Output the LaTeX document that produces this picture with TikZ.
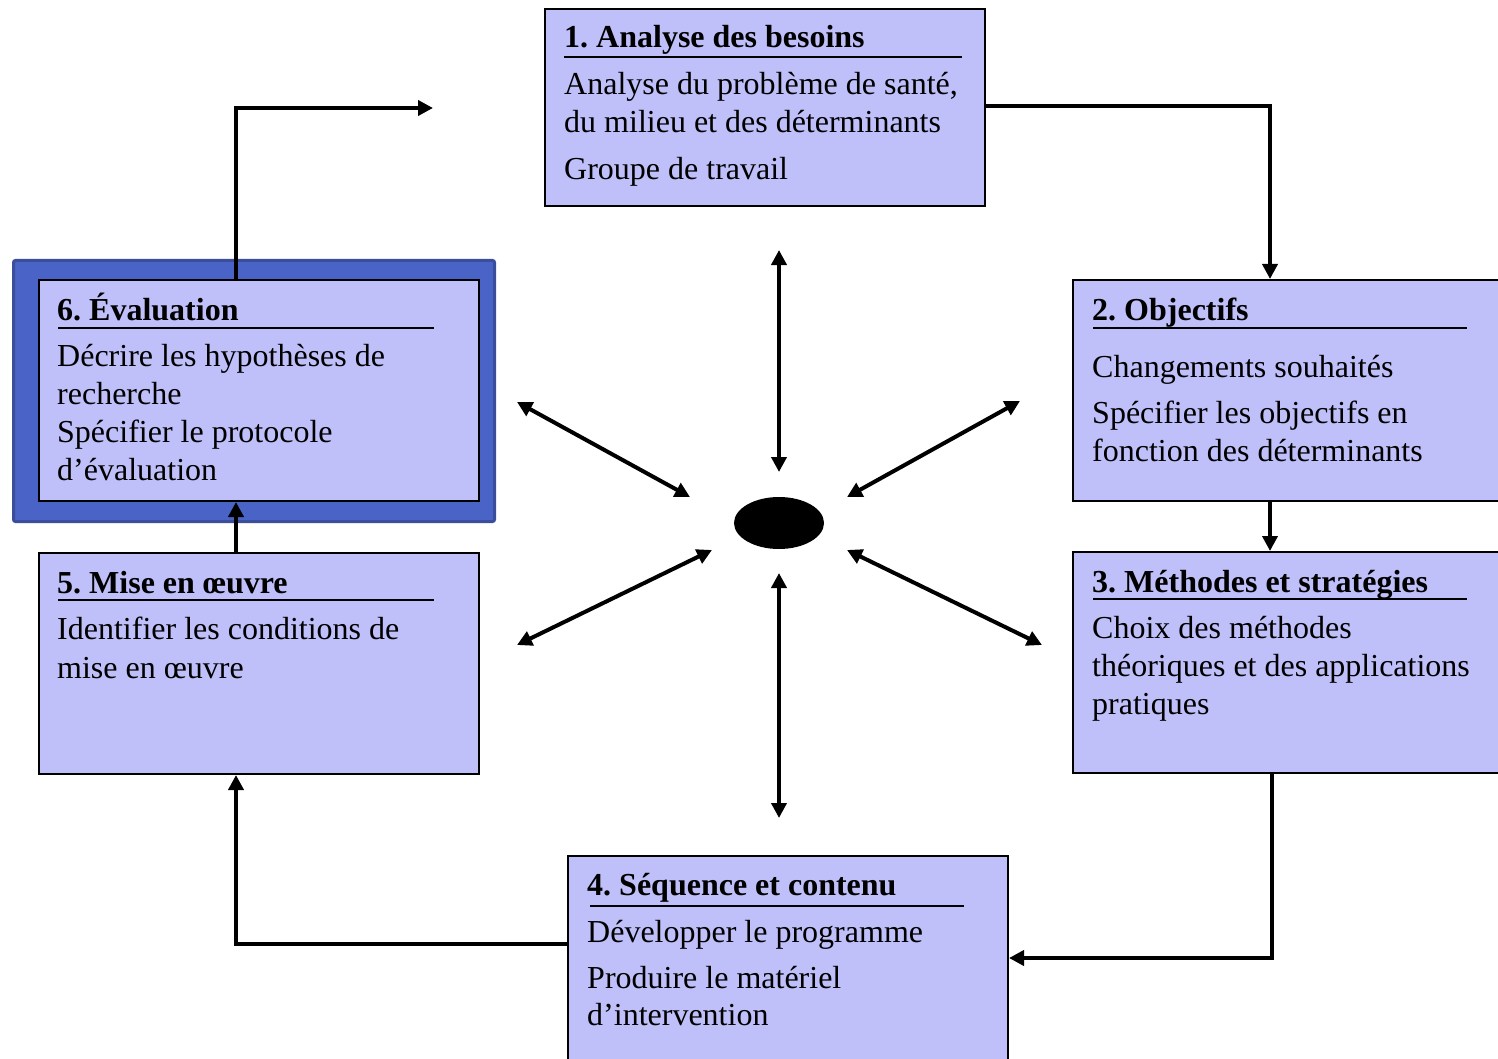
\documentclass[tikz,border=0pt]{standalone}
\usepackage{fontspec}
\setmainfont{Liberation Serif}
\usetikzlibrary{arrows.meta,shapes.geometric}
\definecolor{boxfill}{RGB}{191,191,249}
\definecolor{framefill}{RGB}{74,99,198}
\definecolor{frameedge}{RGB}{58,78,156}
\begin{document}
\begin{tikzpicture}[x=1pt,y=-1pt,
 box/.style={draw=black, line width=2pt, fill=boxfill, anchor=north west, inner sep=0pt},
 txt/.style={anchor=base west, inner sep=0pt, font=\fontsize{32}{38}\selectfont},
 head/.style={anchor=base west, inner sep=0pt, font=\fontsize{32}{38}\selectfont\bfseries},
 rulestyle/.style={line width=2pt},
 conn/.style={line width=4pt, -{Triangle[length=15pt,width=15pt]}},
 dbl/.style={line width=4pt, {Triangle[length=15pt,width=15pt]}-{Triangle[length=15pt,width=15pt]}}]
\useasboundingbox (0,0) rectangle (1498,1059);
\fill[white] (0,0) rectangle (1498,1059);

% boxes
\node[box, minimum width=440pt, minimum height=197pt] (b1) at (544,8) {};
\node[box, minimum width=460pt, minimum height=221pt] (b2) at (1072,279) {};
\node[box, minimum width=460pt, minimum height=221pt] (b3) at (1072,551) {};
\node[box, minimum width=440pt, minimum height=240pt] (b4) at (567,855) {};
\node[box, minimum width=440pt, minimum height=221pt] (b5) at (38,552) {};
\node[anchor=north west, inner sep=0pt, fill=framefill, draw=frameedge, line width=3pt, rounded corners=2pt, minimum width=481pt, minimum height=261pt] (f6) at (12,259) {};
\node[box, minimum width=440pt, minimum height=221pt] (b6) at (38,279) {};

% box 1
\node[head] (h1) at (564,48) {1.\ Analyse des besoins};
\draw[rulestyle] (564,57) -- (962,57);
\node[txt] (t1a) at (564,95) {Analyse du problème de santé,};
\node[txt] (t1b) at (564,133) {du milieu et des déterminants};
\node[txt] (t1c) at (564,180) {Groupe de travail};

% box 2
\node[head] (h2) at (1092,320) {2.\ Objectifs};
\draw[rulestyle] (1093,328) -- (1467,328);
\node[txt] (t2a) at (1092,377) {Changements souhaités};
\node[txt] (t2b) at (1092,423) {Spécifier les objectifs en};
\node[txt] (t2c) at (1092,461) {fonction des déterminants};

% box 3
\node[head] (h3) at (1092,592) {3.\ Méthodes et stratégies};
\draw[rulestyle] (1093,599) -- (1467,599);
\node[txt] (t3a) at (1092,638) {Choix des méthodes};
\node[txt] (t3b) at (1092,676) {théoriques et des applications};
\node[txt] (t3c) at (1092,714) {pratiques};

% box 4
\node[head] (h4) at (587,895) {4.\ Séquence et contenu};
\draw[rulestyle] (590,906) -- (964,906);
\node[txt] (t4a) at (587,942) {Développer le programme};
\node[txt] (t4b) at (587,988) {Produire le matériel};
\node[txt] (t4c) at (587,1025) {d’intervention};

% box 5
\node[head] (h5) at (57,593) {5.\ Mise en œuvre};
\draw[rulestyle] (58,600) -- (434,600);
\node[txt] (t5a) at (57,639) {Identifier les conditions de};
\node[txt] (t5b) at (57,678) {mise en œuvre};

% box 6
\node[head] (h6) at (57,320) {6.\ Évaluation};
\draw[rulestyle] (58,328) -- (434,328);
\node[txt] (t6a) at (57,366) {Décrire les hypothèses de};
\node[txt] (t6b) at (57,404) {recherche};
\node[txt] (t6c) at (57,442) {Spécifier le protocole};
\node[txt] (t6d) at (57,480) {d’évaluation};

% centre
\node[ellipse, fill=black, minimum width=90pt, minimum height=52pt, inner sep=0pt] (c) at (779,523) {};

% radial arrows
\coordinate (nA) at (779,250); \coordinate (nB) at (779,472);
\coordinate (sA) at (779,818); \coordinate (sB) at (779,573);
\coordinate (nwA) at (517,402); \coordinate (nwB) at (690,497);
\coordinate (neA) at (1020,401); \coordinate (neB) at (847,497);
\coordinate (swA) at (517,645); \coordinate (swB) at (712,550);
\coordinate (seA) at (1042,645); \coordinate (seB) at (847,550);
\draw[dbl] (nA) -- (nB);
\draw[dbl] (sA) -- (sB);
\draw[dbl] (nwA) -- (nwB);
\draw[dbl] (neA) -- (neB);
\draw[dbl] (swA) -- (swB);
\draw[dbl] (seA) -- (seB);

% cycle connectors
\draw[conn] ([yshift=1.5pt]b1.east) -| ([xshift=198pt]b2.north west);
\draw[conn] ([xshift=198pt]b2.south west) -- ([xshift=198pt]b3.north west);
\draw[conn] ([xshift=200pt]b3.south west) |- ([yshift=-103pt]b4.north east);
\draw[conn] ([yshift=-89pt]b4.north west) -| ([xshift=198pt]b5.south west);
\draw[conn] ([xshift=198pt]b5.north west) -- ([xshift=198pt]b6.south west);
\coordinate (free) at (433,108);
\draw[conn] ([xshift=198pt]b6.north west) |- (free);
\end{tikzpicture}
\end{document}
